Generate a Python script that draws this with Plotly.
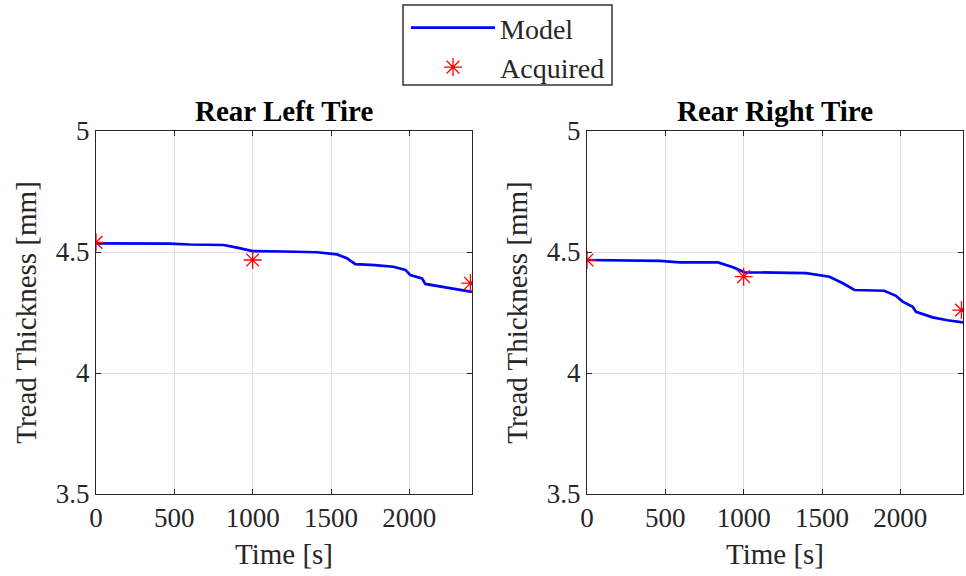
import plotly.graph_objects as go

# Rear left tire model
left_t = [0, 340, 470, 600, 815, 900, 1000, 1200, 1410, 1538, 1602, 1655, 1780, 1898, 1975, 2006, 2081, 2102, 2198, 2300, 2400]
left_v = [4.536, 4.536, 4.535, 4.531, 4.529, 4.518, 4.504, 4.502, 4.499, 4.490, 4.474, 4.450, 4.446, 4.439, 4.426, 4.405, 4.391, 4.368, 4.357, 4.347, 4.335]
# Rear right tire model
right_t = [0, 338, 465, 592, 836, 932, 1006, 1200, 1399, 1548, 1633, 1707, 1800, 1898, 1972, 2015, 2079, 2100, 2206, 2300, 2400]
right_v = [4.467, 4.464, 4.463, 4.457, 4.457, 4.437, 4.416, 4.415, 4.413, 4.398, 4.371, 4.343, 4.342, 4.340, 4.319, 4.295, 4.274, 4.253, 4.230, 4.218, 4.209]
# Acquired measurements
acq_t = [0, 1000, 2390]
acq_left = [4.54, 4.467, 4.371]
acq_right = [4.467, 4.398, 4.26]

titles = ["Rear Left Tire", "Rear Right Tire"]
x_ticks = [0, 500, 1000, 1500, 2000]
y_ticks = [3.5, 4, 4.5, 5]

FONT = "Liberation Serif"
AX = "#262626"
FS_TICK = 27
FS_LAB = 29

fig = go.Figure()
fig.add_trace(go.Scatter(x=left_t, y=left_v, mode="lines", name="Model",
                         line=dict(color="#0000ff", width=2.7), xaxis="x", yaxis="y"))
fig.add_trace(go.Scatter(x=acq_t, y=acq_left, mode="markers", name="Acquired",
                         marker=dict(symbol="asterisk-open", size=15, color="#ff0000",
                                     line=dict(color="#ff0000", width=1.3)),
                         xaxis="x", yaxis="y"))
fig.add_trace(go.Scatter(x=right_t, y=right_v, mode="lines", name="Model", showlegend=False,
                         line=dict(color="#0000ff", width=2.7), xaxis="x2", yaxis="y2"))
fig.add_trace(go.Scatter(x=acq_t, y=acq_right, mode="markers", name="Acquired", showlegend=False,
                         marker=dict(symbol="asterisk-open", size=15, color="#ff0000",
                                     line=dict(color="#ff0000", width=1.3)),
                         xaxis="x2", yaxis="y2"))

ydom = [1 - 494 / 576, 1 - 131 / 576]
xdoms = [[96 / 966, 472 / 966], [587 / 966, 963 / 966]]

def xaxis(dom, anchor):
    return dict(domain=dom, anchor=anchor, range=[0, 2400], tickvals=x_ticks,
                showgrid=True, gridcolor="#dedede", gridwidth=1, zeroline=False,
                showline=True, linecolor=AX, linewidth=1, mirror="ticks",
                ticks="inside", ticklen=5, tickcolor=AX, automargin=False,
                tickfont=dict(family=FONT, size=FS_TICK, color=AX),
                title=dict(text="Time [s]", font=dict(family=FONT, size=FS_LAB, color=AX), standoff=11))

def yaxis(anchor):
    return dict(domain=ydom, anchor=anchor, range=[3.5, 5], tickvals=y_ticks,
                showgrid=True, gridcolor="#dedede", gridwidth=1, zeroline=False,
                showline=True, linecolor=AX, linewidth=1, mirror="ticks",
                ticks="inside", ticklen=5, tickcolor=AX, automargin=False,
                tickfont=dict(family=FONT, size=FS_TICK, color=AX),
                title=dict(text="Tread Thickness [mm]", font=dict(family=FONT, size=FS_LAB, color=AX), standoff=10))

annotations = []
for dom, t in zip(xdoms, titles):
    annotations.append(dict(text="<b>" + t + "</b>", x=(dom[0] + dom[1]) / 2, y=ydom[1],
                            xref="paper", yref="paper", xanchor="center", yanchor="bottom",
                            yshift=2, showarrow=False, font=dict(family=FONT, size=29, color="black")))

fig.update_layout(
    width=966, height=576,
    margin=dict(l=0, r=0, t=0, b=0, autoexpand=False),
    paper_bgcolor="white", plot_bgcolor="white",
    xaxis=xaxis(xdoms[0], "y"), yaxis=yaxis("x"),
    xaxis2=xaxis(xdoms[1], "y2"), yaxis2=yaxis("x2"),
    annotations=annotations,
    shapes=[dict(type="rect", xref="paper", yref="paper",
                 x0=403 / 966, x1=612 / 966, y0=1 - 85 / 576, y1=1 - 5 / 576,
                 line=dict(color="#333333", width=1.5), fillcolor="rgba(0,0,0,0)", layer="below")],
    showlegend=True,
    legend=dict(x=406 / 966, y=1 - 3 / 576, xanchor="left", yanchor="top",
                borderwidth=0, bgcolor="rgba(0,0,0,0)",
                font=dict(family=FONT, size=28, color=AX), itemwidth=84,
                tracegroupgap=0),
)

fig.write_html("out.html")
